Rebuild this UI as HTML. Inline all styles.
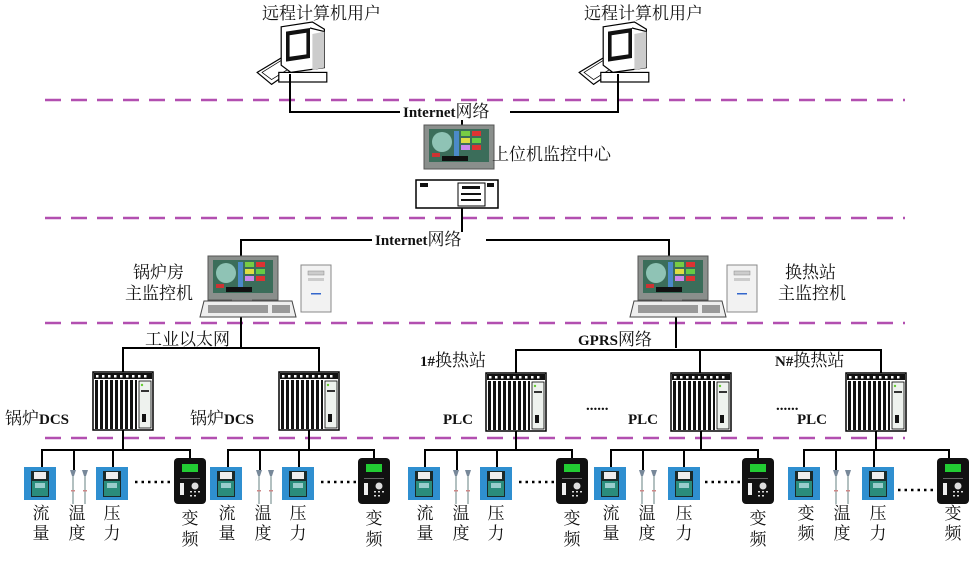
<!DOCTYPE html>
<html><head><meta charset="utf-8"><style>
html,body{margin:0;padding:0;background:#fff;}
svg{display:block;}
.cn{font-family:"Liberation Serif","Noto Serif CJK SC",serif;font-size:17px;fill:#111;}
.b{font-family:"Liberation Serif","Noto Serif CJK SC",serif;font-weight:bold;font-size:15px;fill:#111;}
</style></head><body>
<svg width="976" height="563" viewBox="0 0 976 563" xmlns="http://www.w3.org/2000/svg">
<defs>
<g id="rack">
 <rect x="0" y="0" width="60" height="58" fill="#fff" stroke="#000" stroke-width="1.5"/>
 <rect x="1" y="1" width="58" height="6" fill="#111"/>
 <g fill="#fff"><rect x="3" y="3" width="2.5" height="2.5"/><rect x="9" y="3" width="2.5" height="2.5"/><rect x="15" y="3" width="2.5" height="2.5"/><rect x="21" y="3" width="2.5" height="2.5"/><rect x="27" y="3" width="2.5" height="2.5"/><rect x="33" y="3" width="2.5" height="2.5"/><rect x="39" y="3" width="2.5" height="2.5"/><rect x="45" y="3" width="2.5" height="2.5"/><rect x="51" y="3" width="2.5" height="2.5"/></g>
 <g fill="#111"><rect x="2" y="8" width="3" height="49"/><rect x="7" y="8" width="3" height="49"/><rect x="12" y="8" width="3" height="49"/><rect x="17" y="8" width="3" height="49"/><rect x="22" y="8" width="3" height="49"/><rect x="27" y="8" width="3" height="49"/><rect x="32" y="8" width="3" height="49"/><rect x="37" y="8" width="3" height="49"/><rect x="42" y="8" width="2" height="49"/></g>
 <rect x="46" y="9" width="12" height="47" fill="#eef2ee" stroke="#000" stroke-width="0.8"/>
 <circle cx="49" cy="13" r="1.2" fill="#6c3"/>
 <rect x="48" y="18" width="8" height="2" fill="#333"/>
 <rect x="49" y="42" width="4" height="8" fill="#111"/>
</g>
<g id="rpc">
 <polygon points="-4,42 16,30 28,38 8,52" fill="#fff" stroke="#000"/>
 <polygon points="0,42 16,32 24,38 8,48" fill="none" stroke="#000" stroke-width="0.6"/>
 <rect x="14" y="42" width="40" height="8" fill="#fff" stroke="#000"/>
 <polygon points="16,4 42,0 52,6 52,38 24,42 16,36" fill="#fff" stroke="#000"/>
 <polygon points="20,8 40,5 40,30 20,33" fill="#111"/>
 <polygon points="23,11 37,9 37,27 23,29" fill="#fff"/>
 <line x1="40" y1="5" x2="52" y2="8" stroke="#000"/>
 <polygon points="42,10 52,8 52,38 42,40" fill="#ccc"/>
</g>
<g id="mon">
 <rect x="0" y="0" width="70" height="44" fill="#8a8f8c" stroke="#555"/>
 <rect x="5" y="4" width="60" height="33" fill="#3b6d5a"/>
 <circle cx="18" cy="17" r="10" fill="#8fc3b5"/>
 <rect x="30" y="6" width="5" height="26" fill="#4b8ac9"/>
 <rect x="37" y="6" width="9" height="5" fill="#7c4"/><rect x="37" y="13" width="9" height="5" fill="#dd4"/><rect x="37" y="20" width="9" height="5" fill="#c8e"/><rect x="48" y="6" width="9" height="5" fill="#d33"/><rect x="48" y="13" width="9" height="5" fill="#6c4"/><rect x="48" y="20" width="9" height="5" fill="#d33"/>
 <rect x="8" y="28" width="8" height="4" fill="#c33"/>
 <rect x="18" y="31" width="26" height="5" fill="#111"/>
</g>
<g id="kbd">
 <polygon points="4,0 92,0 96,16 0,16" fill="#eee" stroke="#444"/>
 <rect x="8" y="4" width="60" height="8" fill="#999"/><rect x="72" y="4" width="18" height="8" fill="#999"/>
</g>
<g id="tower">
 <rect x="0" y="0" width="30" height="47" fill="#f2f2f2" stroke="#888"/>
 <rect x="7" y="6" width="16" height="4" fill="#ccc" stroke="#888" stroke-width="0.5"/>
 <rect x="7" y="13" width="16" height="3" fill="#ccc"/>
 <rect x="10" y="28" width="10" height="1.5" fill="#36c"/>
</g>
<g id="flow">
 <rect x="-16" y="0" width="32" height="33" fill="#2f8fd0"/>
 <rect x="-9" y="4" width="18" height="26" fill="#1a2a2a"/>
 <rect x="-6" y="5" width="12" height="7" fill="#eee"/>
 <rect x="-8" y="14" width="16" height="15" fill="#2a8c7c"/>
 <rect x="-5" y="16" width="10" height="5" fill="#9cc"/>
</g>
<g id="temp">
 <g stroke="#9aa" stroke-width="1.5"><line x1="-6" y1="6" x2="-6" y2="38"/><line x1="6" y1="6" x2="6" y2="38"/></g>
 <polygon points="-9,4 -3,4 -5,10 -7,10" fill="#789"/><polygon points="3,4 9,4 7,10 5,10" fill="#789"/>
 <rect x="-8" y="24" width="4" height="1.5" fill="#c88"/><rect x="4" y="24" width="4" height="1.5" fill="#c88"/>
</g>
<g id="vfd">
 <rect x="-16" y="0" width="32" height="46" rx="4" fill="#111"/>
 <rect x="-8" y="6" width="16" height="8" fill="#2c3"/>
 <rect x="-10" y="20" width="20" height="1" fill="#666"/>
 <rect x="-10" y="25" width="4" height="12" fill="#eee"/>
 <circle cx="5" cy="28" r="3.5" fill="#ddd"/>
 <g fill="#ddd"><rect x="0" y="33" width="2" height="1.5"/><rect x="4" y="33" width="2" height="1.5"/><rect x="8" y="33" width="2" height="1.5"/><rect x="0" y="37" width="2" height="1.5"/><rect x="4" y="37" width="2" height="1.5"/></g>
</g>
</defs>

<g stroke="#b24fb0" stroke-width="2.5" stroke-dasharray="16,10">
 <line x1="45" y1="100" x2="905" y2="100"/>
 <line x1="45" y1="218" x2="905" y2="218"/>
 <line x1="45" y1="323" x2="905" y2="323"/>
 <line x1="45" y1="438" x2="905" y2="438"/>
</g>

<text class="cn" x="262" y="19">远程计算机用户</text>
<text class="cn" x="584" y="19">远程计算机用户</text>
<g transform="translate(262,22) scale(1.2)"><use href="#rpc"/></g>
<g transform="translate(584,22) scale(1.2)"><use href="#rpc"/></g>

<g stroke="#000" stroke-width="2" fill="none">
 <polyline points="290,74 290,112 618,112 618,74"/>
 <line x1="462" y1="112" x2="462" y2="125"/>
 <line x1="462" y1="208" x2="462" y2="240"/>
 <polyline points="241,256 241,240 669,240 669,256"/>
 <polyline points="241,316 241,348"/>
 <polyline points="123,372 123,348 319,348 319,372"/>
 <line x1="676" y1="316" x2="676" y2="348"/>
 <polyline points="516,373 516,350 881,350 881,373"/>
 <line x1="700" y1="350" x2="700" y2="373"/>
</g>
<rect x="400" y="104" width="110" height="16" fill="#fff"/>
<text class="b" x="403" y="117">Internet<tspan class="cn" style="font-weight:normal">网络</tspan></text>

<use href="#mon" x="424" y="125"/>
<rect x="416" y="180" width="82" height="28" fill="#fff" stroke="#000" stroke-width="1.5"/>
<rect x="420" y="183" width="8" height="4" fill="#111"/><rect x="487" y="183" width="7" height="4" fill="#111"/>
<rect x="458" y="183" width="27" height="23" fill="#fff" stroke="#000"/>
<rect x="462" y="186" width="18" height="3" fill="#111"/><rect x="461" y="193" width="20" height="2" fill="#111"/><rect x="461" y="199" width="20" height="2" fill="#111"/>
<text class="cn" x="492" y="160">上位机监控中心</text>

<rect x="372" y="232" width="114" height="16" fill="#fff"/>
<text class="b" x="375" y="245">Internet<tspan class="cn" style="font-weight:normal">网络</tspan></text>

<use href="#mon" x="208" y="256"/>
<rect x="232" y="299" width="20" height="3" fill="#888"/>
<use href="#kbd" x="200" y="301"/>
<use href="#tower" x="301" y="265"/>
<text class="cn" x="133" y="278">锅炉房</text>
<text class="cn" x="125" y="299">主监控机</text>
<text class="cn" x="145" y="345">工业以太网</text>

<use href="#mon" x="638" y="256"/>
<rect x="662" y="299" width="20" height="3" fill="#888"/>
<use href="#kbd" x="630" y="301"/>
<use href="#tower" x="727" y="265"/>
<text class="cn" x="785" y="278">换热站</text>
<text class="cn" x="778" y="299">主监控机</text>
<rect x="575" y="332" width="96" height="16" fill="#fff"/>
<text class="b" x="578" y="345">GPRS<tspan class="cn" style="font-weight:normal">网络</tspan></text>
<text class="b" x="420" y="366">1#<tspan class="cn" style="font-weight:normal">换热站</tspan></text>
<text class="b" x="775" y="366">N#<tspan class="cn" style="font-weight:normal">换热站</tspan></text>

<use href="#rack" x="93" y="372"/>
<use href="#rack" x="279" y="372"/>
<use href="#rack" x="486" y="373"/>
<use href="#rack" x="671" y="373"/>
<use href="#rack" x="846" y="373"/>
<text class="b" x="5" y="424"><tspan class="cn" style="font-weight:normal">锅炉</tspan>DCS</text>
<text class="b" x="190" y="424"><tspan class="cn" style="font-weight:normal">锅炉</tspan>DCS</text>
<text class="b" x="443" y="424">PLC</text>
<text class="b" x="628" y="424">PLC</text>
<text class="b" x="797" y="424">PLC</text>
<text class="b" x="586" y="410">......</text>
<text class="b" x="776" y="410">......</text>

<g stroke="#000" stroke-width="2" fill="none">
 <line x1="123" y1="430" x2="123" y2="450"/>
 <polyline points="42,467 42,450 190,450 190,458"/><line x1="74" y1="450" x2="74" y2="470"/><line x1="113" y1="450" x2="113" y2="467"/>
 <line x1="309" y1="430" x2="309" y2="450"/>
 <polyline points="228,467 228,450 374,450 374,458"/><line x1="260" y1="450" x2="260" y2="470"/><line x1="299" y1="450" x2="299" y2="467"/>
 <line x1="516" y1="431" x2="516" y2="450"/>
 <polyline points="425,467 425,450 572,450 572,458"/><line x1="457" y1="450" x2="457" y2="470"/><line x1="497" y1="450" x2="497" y2="467"/>
 <line x1="701" y1="431" x2="701" y2="450"/>
 <polyline points="611,467 611,450 758,450 758,458"/><line x1="643" y1="450" x2="643" y2="470"/><line x1="684" y1="450" x2="684" y2="467"/>
 <line x1="876" y1="431" x2="876" y2="450"/>
 <polyline points="804,467 804,450 949,450 949,458"/><line x1="836" y1="450" x2="836" y2="470"/><line x1="874" y1="450" x2="874" y2="467"/>
</g>
<g stroke="#000" stroke-width="2.5" stroke-dasharray="2.5,4">
 <line x1="135" y1="482" x2="170" y2="482"/><line x1="321" y1="482" x2="356" y2="482"/>
 <line x1="519" y1="482" x2="554" y2="482"/><line x1="705" y1="482" x2="740" y2="482"/>
 <line x1="898" y1="490" x2="933" y2="490"/>
</g>

<use href="#flow" x="40" y="467"/><use href="#temp" x="79" y="466"/><use href="#flow" x="112" y="467"/><use href="#vfd" x="190" y="458"/>
<use href="#flow" x="226" y="467"/><use href="#temp" x="265" y="466"/><use href="#flow" x="298" y="467"/><use href="#vfd" x="374" y="458"/>
<use href="#flow" x="424" y="467"/><use href="#temp" x="462" y="466"/><use href="#flow" x="496" y="467"/><use href="#vfd" x="572" y="458"/>
<use href="#flow" x="610" y="467"/><use href="#temp" x="648" y="466"/><use href="#flow" x="684" y="467"/><use href="#vfd" x="758" y="458"/>
<use href="#flow" x="804" y="467"/><use href="#temp" x="842" y="466"/><use href="#flow" x="878" y="467"/><use href="#vfd" x="953" y="458"/>

<g class="cn" text-anchor="middle" style="font-size:17px">
 <text x="41" y="519">流</text><text x="41" y="539">量</text><text x="77" y="519">温</text><text x="77" y="539">度</text><text x="112" y="519">压</text><text x="112" y="539">力</text><text x="190" y="524">变</text><text x="190" y="545">频</text>
 <text x="227" y="519">流</text><text x="227" y="539">量</text><text x="263" y="519">温</text><text x="263" y="539">度</text><text x="298" y="519">压</text><text x="298" y="539">力</text><text x="374" y="524">变</text><text x="374" y="545">频</text>
 <text x="425" y="519">流</text><text x="425" y="539">量</text><text x="461" y="519">温</text><text x="461" y="539">度</text><text x="496" y="519">压</text><text x="496" y="539">力</text><text x="572" y="524">变</text><text x="572" y="545">频</text>
 <text x="611" y="519">流</text><text x="611" y="539">量</text><text x="647" y="519">温</text><text x="647" y="539">度</text><text x="684" y="519">压</text><text x="684" y="539">力</text><text x="758" y="524">变</text><text x="758" y="545">频</text>
 <text x="806" y="519">变</text><text x="806" y="539">频</text><text x="842" y="519">温</text><text x="842" y="539">度</text><text x="878" y="519">压</text><text x="878" y="539">力</text><text x="953" y="519">变</text><text x="953" y="539">频</text>
</g>
</svg>
</body></html>
